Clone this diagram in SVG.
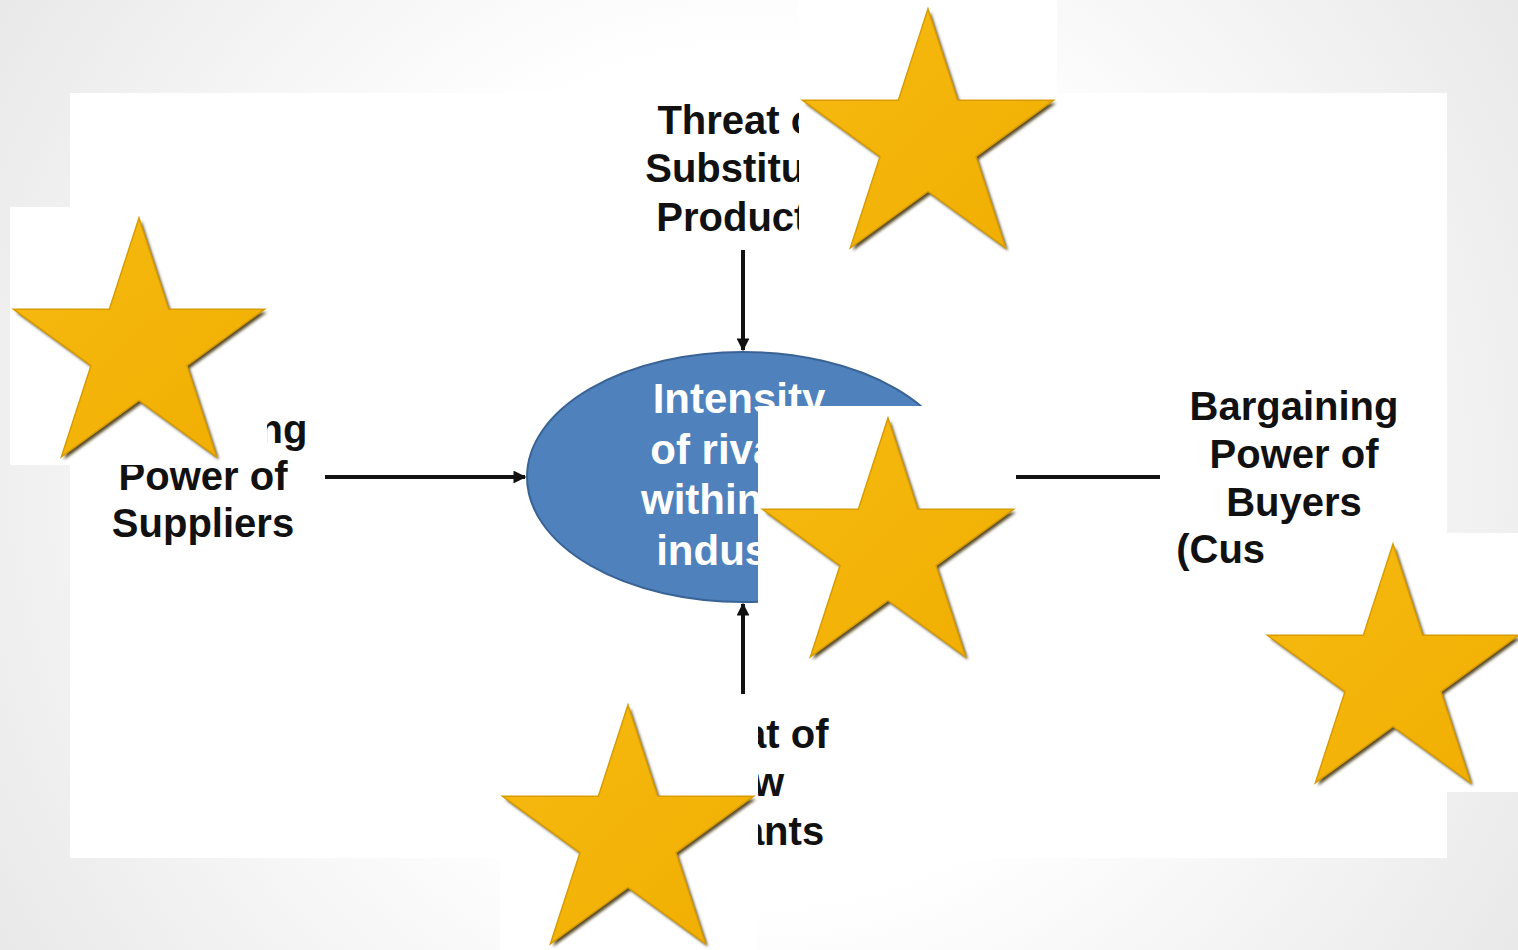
<svg xmlns="http://www.w3.org/2000/svg" width="1518" height="950" viewBox="0 0 1518 950">
  <defs>
    <radialGradient id="bg" cx="759" cy="475" r="950" gradientUnits="userSpaceOnUse">
      <stop offset="0.45" stop-color="#ffffff"/>
      <stop offset="1" stop-color="#e6e6e6"/>
    </radialGradient>
    <linearGradient id="starFill" x1="0" y1="0" x2="1" y2="1">
      <stop offset="0" stop-color="#F7BA12"/>
      <stop offset="1" stop-color="#F0AE00"/>
    </linearGradient>
    <filter id="starShadow" x="-20%" y="-20%" width="140%" height="140%">
      <feGaussianBlur stdDeviation="1.6"/>
    </filter>
    <marker id="arrow" viewBox="0 0 10 10" refX="9" refY="5" markerWidth="3.2" markerHeight="3.2" orient="auto" markerUnits="strokeWidth">
      <path d="M0,0 L10,5 L0,10 Z" fill="#111"/>
    </marker>
    <path id="star" d="M0,-132 L29.64,-40.79 L125.54,-40.79 L47.95,15.58 L77.59,106.79 L0,50.42 L-77.59,106.79 L-47.95,15.58 L-125.54,-40.79 L-29.64,-40.79 Z"/>
    <g id="starShape">
      <use href="#star" transform="translate(2.5,3)" fill="#3a2c00" opacity="0.85" filter="url(#starShadow)"/>
      <use href="#star" fill="url(#starFill)" stroke="#D89C00" stroke-width="1.5" stroke-linejoin="miter"/>
    </g>
  </defs>
  <style>
    .lbl { font-family: "Liberation Sans", Arial, sans-serif; font-weight: bold; font-size: 40px; fill: #111; text-anchor: middle; }
    .inner { font-family: "Liberation Sans", Arial, sans-serif; font-weight: bold; font-size: 42px; fill: #ffffff; text-anchor: middle; }
    .conn { stroke: #111; stroke-width: 4; fill: none; }
    .box { fill: #ffffff; }
  </style>

  <rect x="0" y="0" width="1518" height="950" fill="url(#bg)"/>
  <rect x="70" y="93" width="1377" height="765" fill="#ffffff"/>

  <g id="connectors">
    <line class="conn" x1="325" y1="477" x2="525" y2="477" marker-end="url(#arrow)"/>
    <line class="conn" x1="743" y1="250" x2="743" y2="350" marker-end="url(#arrow)"/>
    <line class="conn" x1="743" y1="705" x2="743" y2="604" marker-end="url(#arrow)"/>
    <line class="conn" x1="1160" y1="477" x2="961" y2="477" marker-end="url(#arrow)"/>
  </g>

  <g id="node-rivalry">
    <ellipse cx="743" cy="477" rx="216" ry="125" fill="#4F81BD" stroke="#3A6395" stroke-width="2"/>
    <text class="inner" x="739" y="413">Intensity</text>
    <text class="inner" x="739" y="464">of rivalry</text>
    <text class="inner" x="739" y="514">within the</text>
    <text class="inner" x="739" y="565">industry</text>
  </g>

  <g id="node-substitutes">
    <text class="lbl" x="743" y="134">Threat of</text>
    <text class="lbl" x="743" y="182">Substitute</text>
    <text class="lbl" x="743" y="231">Products</text>
  </g>

  <g id="node-suppliers">
    <text class="lbl" x="203" y="443">Bargaining</text>
    <text class="lbl" x="203" y="490">Power of</text>
    <text class="lbl" x="203" y="537">Suppliers</text>
  </g>

  <g id="node-buyers">
    <text class="lbl" x="1294" y="420">Bargaining</text>
    <text class="lbl" x="1294" y="468">Power of</text>
    <text class="lbl" x="1294" y="516">Buyers</text>
    <text class="lbl" x="1294" y="563">(Customers)</text>
  </g>

  <g id="node-entrants">
    <text class="lbl" x="743" y="748">Threat of</text>
    <text class="lbl" x="743" y="796">New</text>
    <text class="lbl" x="743" y="845">Entrants</text>
  </g>

  <g id="star-top">
    <rect class="box" x="799" y="-2" width="258" height="258"/>
    <use href="#starShape" transform="translate(928,141)"/>
  </g>
  <g id="star-left">
    <rect class="box" x="10" y="207" width="257" height="258"/>
    <use href="#starShape" transform="translate(139,350)"/>
  </g>
  <g id="star-center">
    <rect class="box" x="758" y="406" width="258" height="258"/>
    <use href="#starShape" transform="translate(888,550)"/>
  </g>
  <g id="star-bottom">
    <rect class="box" x="500" y="694" width="258" height="258"/>
    <use href="#starShape" transform="translate(628,837)"/>
  </g>
  <g id="star-right">
    <rect class="box" x="1264" y="533" width="258" height="259"/>
    <use href="#starShape" transform="translate(1393,676)"/>
  </g>
</svg>
